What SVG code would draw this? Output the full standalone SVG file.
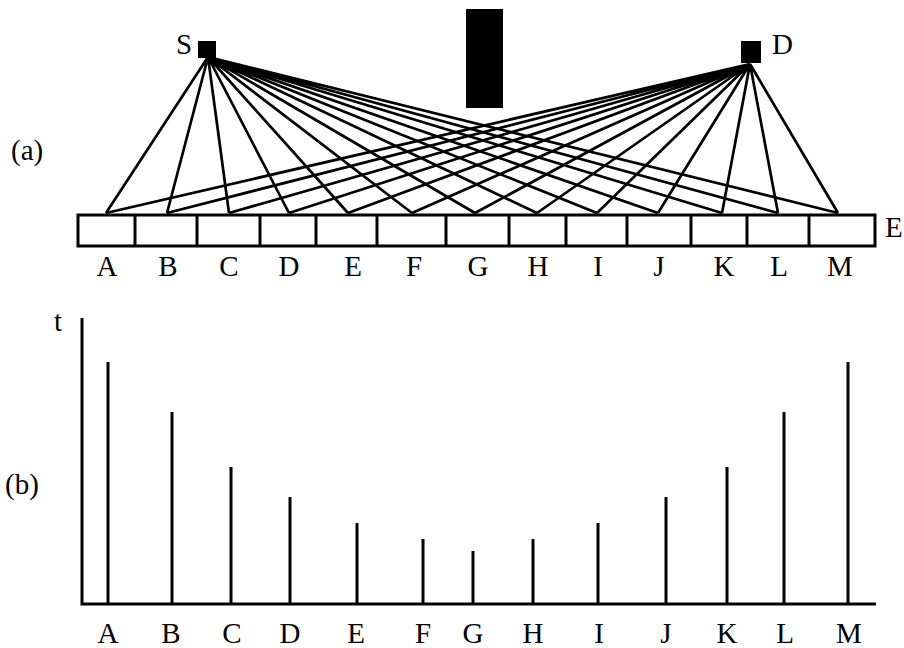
<svg xmlns="http://www.w3.org/2000/svg" width="904" height="648" viewBox="0 0 904 648">
<style>
.t{font-family:"Liberation Serif","Times New Roman",serif;font-size:29px;fill:#000;text-anchor:middle}
.tl{font-family:"Liberation Serif","Times New Roman",serif;font-size:29px;fill:#000}
.ray{stroke:#000;stroke-width:2.7;fill:none}
.thick{stroke:#000;stroke-width:3;fill:none}
</style>
<rect width="904" height="648" fill="#fff"/>
<g id="connectors">
<g class="ray">
<path d="M208 57L106 213M208 57L167 213M208 57L229 213M208 57L289 213M208 57L348 213M208 57L412 213M208 57L475 213M208 57L537 213M208 57L597 213M208 57L658 213M208 57L722 213M208 57L778 213M208 57L838 213"/>
<path d="M750 64L106 213M750 64L167 213M750 64L229 213M750 64L289 213M750 64L348 213M750 64L412 213M750 64L475 213M750 64L537 213M750 64L597 213M750 64L658 213M750 64L722 213M750 64L778 213M750 64L838 213"/>
</g>
</g>
<g id="source">
<rect x="198" y="41" width="18" height="17" fill="#000"/>
<text class="tl" x="176" y="54">S</text>
</g>
<g id="detector">
<rect x="741" y="41" width="20" height="22" fill="#000"/>
<text class="tl" x="772" y="54">D</text>
</g>
<g id="obstacle">
<rect x="466" y="9" width="37" height="99" fill="#000"/>
</g>
<g id="array">
<rect x="78" y="215" width="797" height="31" fill="#fff" stroke="#000" stroke-width="3"/>
<path class="thick" d="M135 215V246M197 215V246M260 215V246M316 215V246M377 215V246M446 215V246M509 215V246M566 215V246M627 215V246M691 215V246M747 215V246M809 215V246"/>
<text class="tl" x="885" y="237">E</text>
</g>
<g id="labels-a">
<text class="tl" x="11" y="160">(a)</text>
<text class="t" x="107" y="276">A</text>
<text class="t" x="168" y="276">B</text>
<text class="t" x="229" y="276">C</text>
<text class="t" x="289" y="276">D</text>
<text class="t" x="353" y="276">E</text>
<text class="t" x="414" y="276">F</text>
<text class="t" x="478" y="276">G</text>
<text class="t" x="538" y="276">H</text>
<text class="t" x="598" y="276">I</text>
<text class="t" x="659" y="276">J</text>
<text class="t" x="724" y="276">K</text>
<text class="t" x="779" y="276">L</text>
<text class="t" x="840" y="276">M</text>
</g>
<g id="chart">
<path class="thick" d="M82 318V604H876"/>
<path class="thick" d="M108 362V604M172 412V604M231 467V604M290 497V604M357 523V604M423 539V604M473 551V604M533 539V604M598 523V604M666 497V604M727 467V604M784 412V604M848 362V604"/>
<text class="tl" x="54" y="331">t</text>
<text class="tl" x="5" y="494">(b)</text>
<text class="t" x="108" y="643">A</text>
<text class="t" x="171" y="643">B</text>
<text class="t" x="232" y="643">C</text>
<text class="t" x="290" y="643">D</text>
<text class="t" x="356" y="643">E</text>
<text class="t" x="423" y="643">F</text>
<text class="t" x="473" y="643">G</text>
<text class="t" x="533" y="643">H</text>
<text class="t" x="599" y="643">I</text>
<text class="t" x="666" y="643">J</text>
<text class="t" x="727" y="643">K</text>
<text class="t" x="785" y="643">L</text>
<text class="t" x="849" y="643">M</text>
</g>
</svg>
